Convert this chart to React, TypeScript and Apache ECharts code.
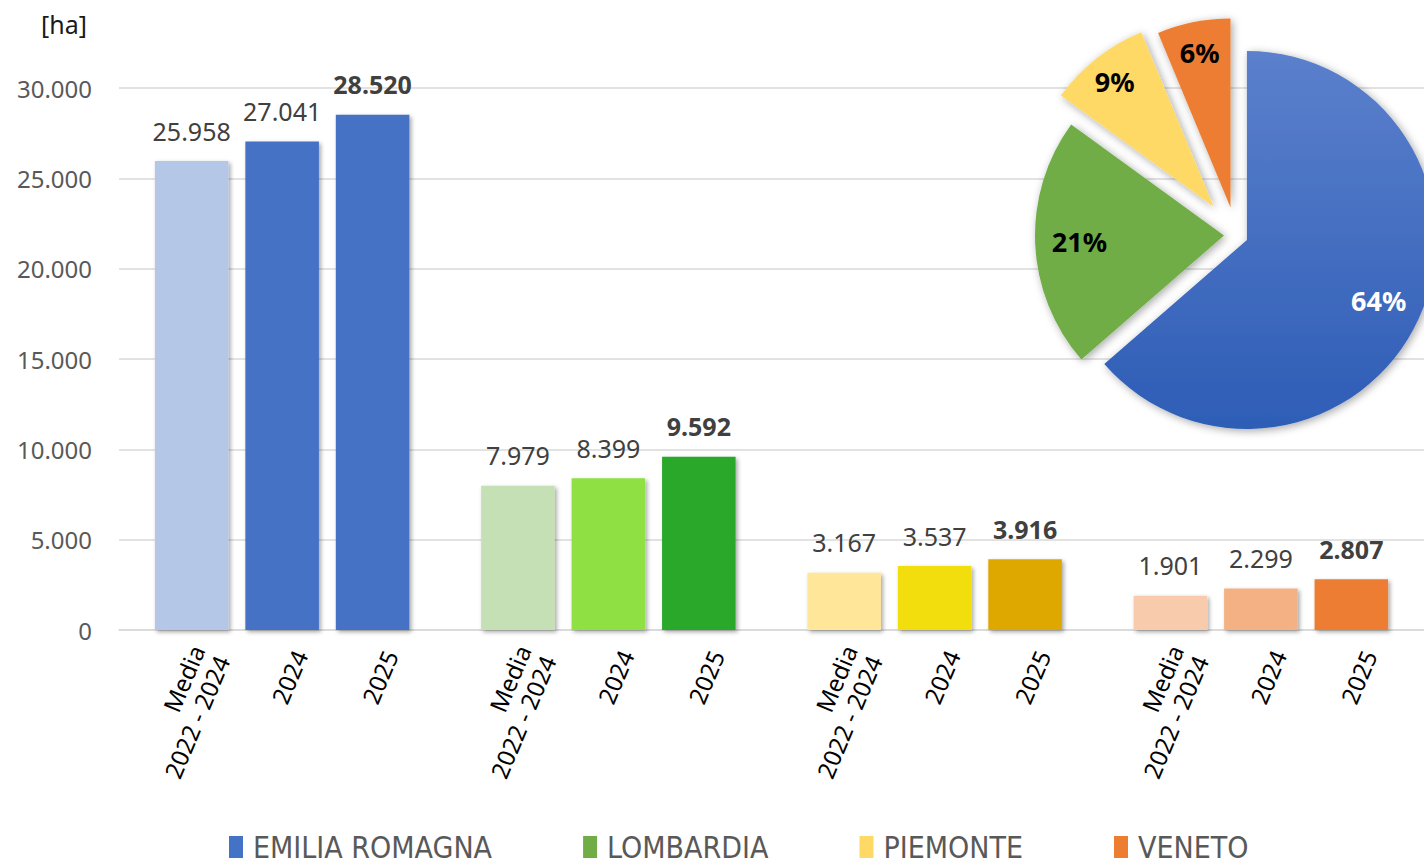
import React, { useEffect, useRef } from "react";
import * as echarts from "echarts";

const regions = ["EMILIA ROMAGNA", "LOMBARDIA", "PIEMONTE", "VENETO"];
const periods = ["Media\n2022 - 2024", "2024", "2025"];
const mediaValues = [25958, 7979, 3167, 1901];
const values2024 = [27041, 8399, 3537, 2299];
const values2025 = [28520, 9592, 3916, 2807];
const yTicks = { min: 0, max: 30000, interval: 5000 };

// style: colours per region for [media, 2024, 2025]
const barColors = [
  ["#B4C7E7", "#4472C4", "#4472C4"],
  ["#C5E0B4", "#8FE042", "#2BA82C"],
  ["#FFE699", "#F3DE0C", "#DFA800"],
  ["#F8CBAD", "#F4B183", "#ED7D31"],
];
const pieColors = ["#4472C4", "#70AD47", "#FFD966", "#ED7D31"];

const fmt = (n: number) => String(n).replace(/\B(?=(\d{3})+(?!\d))/g, ".");

const FONT = "'Noto Sans', sans-serif";

export default function App() {
  const ref = useRef<HTMLDivElement>(null);
  useEffect(() => {
    document.body.style.margin = "0";
    const chart = echarts.init(ref.current!, null, { renderer: "svg" });
    const seriesValues = [mediaValues, values2024, values2025];
    const stacks = ["m", "a", "b"];

    const helperSeries = periods.map((p, i) => ({
      type: "bar",
      name: "lbl" + i,
      stack: stacks[i],
      silent: true,
      data: regions.map(() => 0),
      itemStyle: { color: "rgba(0,0,0,0)" },
      label: {
        show: true,
        formatter: () => p,
        position: "bottom",
        distance: 0,
        rotate: 67,
        align: "right",
        verticalAlign: "middle",
        offset: [-13, 25],
        fontSize: 24,
        lineHeight: 27,
        color: "#000",
        fontFamily: FONT,
      },
    }));

    const mainSeries = seriesValues.map((vals, i) => ({
      type: "bar",
      name: periods[i],
      stack: stacks[i],
      barGap: "23%",
      barCategoryGap: "22%",
      data: vals.map((v, r) => ({ value: v, itemStyle: { color: barColors[r][i] } })),
      itemStyle: {
        shadowColor: "rgba(0,0,0,0.35)",
        shadowBlur: 4,
        shadowOffsetX: 2,
        shadowOffsetY: 2,
      },
      label: {
        show: true,
        position: "top",
        distance: 18,
        formatter: (p: any) => fmt(p.value),
        fontSize: 25,
        fontWeight: i === 2 ? "bold" : "normal",
        color: "#404040",
        fontFamily: FONT,
      },
      emphasis: { disabled: true },
    }));

    const R = 189;
    const center = [1236, 235];
    const groups = [
      { idx: [0, 1], off: 12, inner: 0.5 },
      { idx: [2], off: 36, inner: 0.66 },
      { idx: [3], off: 28, inner: 0.64 },
    ];
    const blueGrad = new echarts.graphic.LinearGradient(0, 0, 0, 1, [
      { offset: 0, color: "#5B80CC" },
      { offset: 1, color: "#2E5DB6" },
    ]);
    const pieSeries: any[] = [];
    groups.forEach((g) => {
      pieSeries.push({
        type: "pie",
        center,
        radius: [0, R],
        startAngle: 90,
        clockwise: true,
        selectedMode: "multiple",
        selectedOffset: g.off,
        avoidLabelOverlap: false,
        label: { show: false },
        labelLine: { show: false },
        emphasis: { disabled: true },
        data: regions.map((name, k) => {
          const on = g.idx.includes(k);
          return {
            name,
            value: values2025[k],
            selected: on,
            itemStyle: on
              ? {
                  color: k === 0 ? blueGrad : pieColors[k],
                  shadowColor: "rgba(0,0,0,0.35)",
                  shadowBlur: 8,
                  shadowOffsetX: 2,
                  shadowOffsetY: 2,
                }
              : { color: "rgba(0,0,0,0)" },
          };
        }),
      });
    });
    groups.forEach((g) => {
      pieSeries.push({
        type: "pie",
        center,
        radius: [R * g.inner, R],
        startAngle: 90,
        clockwise: true,
        silent: true,
        selectedMode: "multiple",
        selectedOffset: g.off,
        avoidLabelOverlap: false,
        labelLine: { show: false },
        emphasis: { disabled: true },
        itemStyle: { color: "rgba(0,0,0,0)" },
        data: regions.map((name, k) => {
          const on = g.idx.includes(k);
          return {
            name,
            value: values2025[k],
            selected: on,
            label: {
              show: on,
              position: "inside",
              formatter: (p: any) => Math.round(p.percent) + "%",
              fontSize: 27,
              fontWeight: "bold",
              color: k === 0 ? "#fff" : "#000",
              fontFamily: FONT,
            },
          };
        }),
      });
    });

    chart.setOption({
      animation: false,
      textStyle: { fontFamily: FONT },
      title: {
        text: "[ha]",
        left: 36,
        top: 6,
        textStyle: { fontSize: 25, fontWeight: "normal", color: "#1a1a1a", fontFamily: FONT },
      },
      legend: {
        data: regions.map((name, k) => ({ name, itemStyle: { color: pieColors[k], opacity: 1 } })),
        left: 224,
        top: 827,
        icon: "rect",
        itemWidth: 14,
        itemHeight: 22,
        itemGap: 91,
        selectedMode: false,
        textStyle: {
          fontSize: 30,
          color: "#595959",
          padding: [0, 0, 0, 5],
          fontFamily: "'Liberation Sans Narrow', 'DejaVu Sans Condensed', sans-serif",
        },
      },
      grid: { left: 119, right: 0, top: 88, bottom: 233 },
      xAxis: {
        type: "category",
        data: regions,
        axisLabel: { show: false },
        axisTick: { show: false },
        axisLine: { lineStyle: { color: "#D9D9D9", width: 1.5 } },
      },
      yAxis: {
        type: "value",
        ...yTicks,
        axisLabel: {
          formatter: (v: number) => fmt(v),
          fontSize: 24,
          color: "#595959",
          margin: 27,
          fontFamily: FONT,
        },
        axisLine: { show: false },
        axisTick: { show: false },
        splitLine: { lineStyle: { color: "#D9D9D9", width: 1.5 } },
      },
      series: [...helperSeries, ...mainSeries, ...pieSeries],
    });
    return () => chart.dispose();
  }, []);
  return <div ref={ref} style={{ width: 1424, height: 863 }} />;
}
